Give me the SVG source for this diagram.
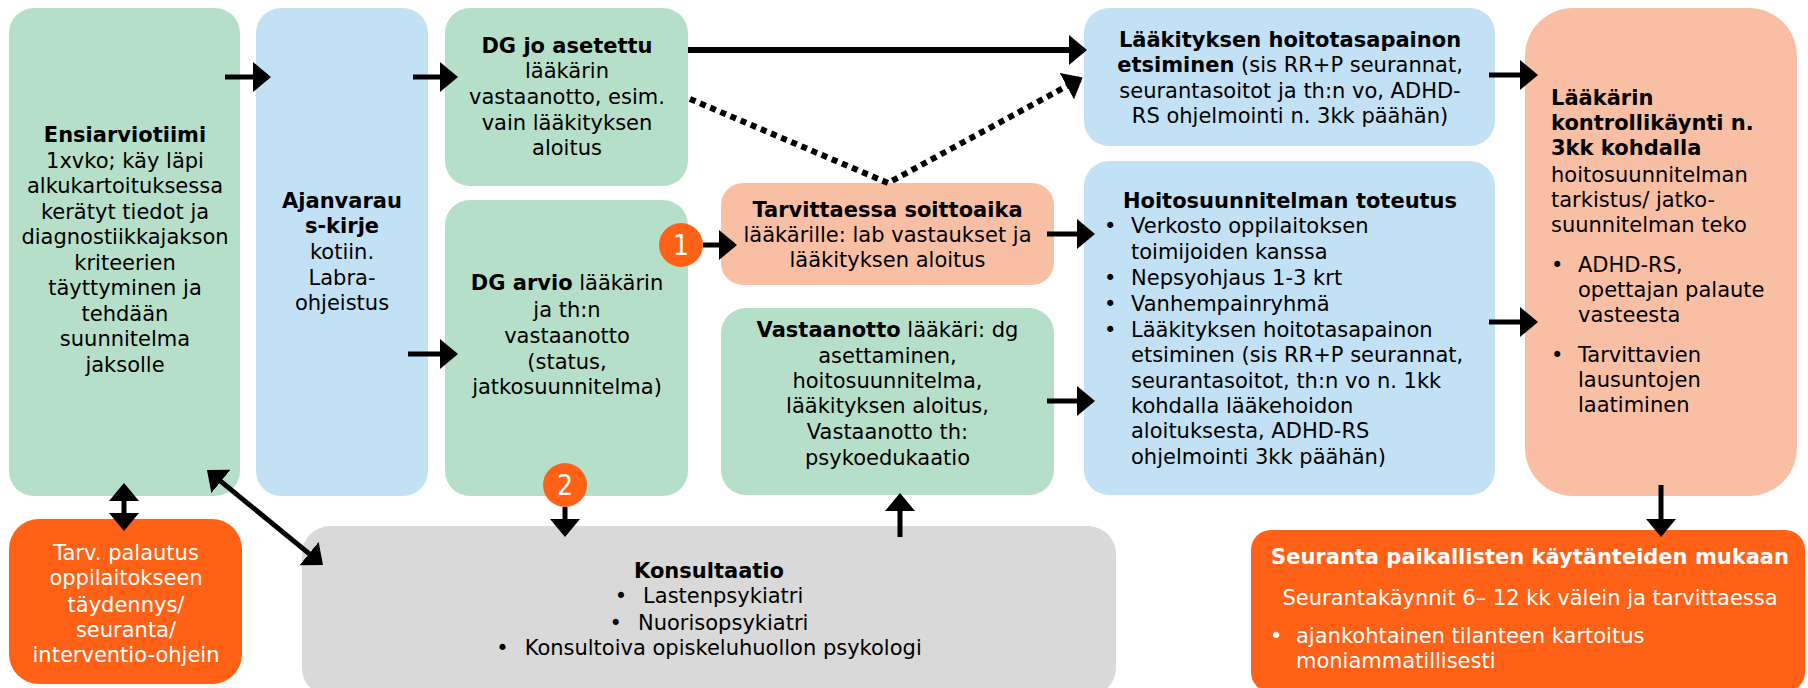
<svg xmlns="http://www.w3.org/2000/svg" width="1808" height="688" viewBox="0 0 1808 688">
<style>
.t{font-family:"DejaVu Sans",Verdana,sans-serif;font-size:21px;fill:#000}
.c{text-anchor:middle}
.b{font-weight:bold}
.w{fill:#fff}
.green{fill:#B6DFCA}
.blue{fill:#C2E1F5}
.salmon{fill:#F8BFA5}
.orange{fill:#FF6116}
.grey{fill:#D9D9D9}
.ln{fill:none;stroke:#000;stroke-width:5}
.dot{fill:none;stroke:#000;stroke-width:6;stroke-dasharray:6 5}
.badge{font-family:"DejaVu Sans Condensed","DejaVu Sans",sans-serif;font-size:28px;fill:#fff;text-anchor:middle}
</style>
<defs>
<marker id="ah" viewBox="0 0 18 30" refX="15" refY="15" markerWidth="18" markerHeight="30" markerUnits="userSpaceOnUse" orient="auto-start-reverse">
<path d="M0,0 L18,15 L0,30 z" fill="#000"/>
</marker>
</defs>

<g id="ensiarviotiimi">
<rect class="green" x="9" y="8" width="231" height="488" rx="25"/>
<text class="t c" x="125"><tspan class="b" x="125" y="142">Ensiarviotiimi</tspan><tspan x="125" y="167.5">1xvko; käy läpi</tspan><tspan x="125" y="193">alkukartoituksessa</tspan><tspan x="125" y="218.5">kerätyt tiedot ja</tspan><tspan x="125" y="244">diagnostiikkajakson</tspan><tspan x="125" y="269.5">kriteerien</tspan><tspan x="125" y="295">täyttyminen ja</tspan><tspan x="125" y="320.5">tehdään</tspan><tspan x="125" y="346">suunnitelma</tspan><tspan x="125" y="371.5">jaksolle</tspan></text>
</g>

<g id="ajanvaraus">
<rect class="blue" x="256" y="8" width="172" height="488" rx="25"/>
<text class="t c"><tspan class="b" x="342" y="208">Ajanvarau</tspan><tspan class="b" x="342" y="233">s-kirje</tspan><tspan x="342" y="259">kotiin.</tspan><tspan x="342" y="285">Labra-</tspan><tspan x="342" y="310">ohjeistus</tspan></text>
</g>

<g id="dg-jo-asetettu">
<rect class="green" x="445" y="8" width="243" height="178" rx="25"/>
<text class="t c"><tspan class="b" x="567" y="53">DG jo asetettu</tspan><tspan x="567" y="78">lääkärin</tspan><tspan x="567" y="104">vastaanotto, esim.</tspan><tspan x="567" y="130">vain lääkityksen</tspan><tspan x="567" y="155">aloitus</tspan></text>
</g>

<g id="dg-arvio">
<rect class="green" x="445" y="200" width="243" height="296" rx="25"/>
<text class="t c"><tspan x="567" y="290"><tspan class="b">DG arvio</tspan> lääkärin</tspan><tspan x="567" y="317">ja th:n</tspan><tspan x="567" y="343">vastaanotto</tspan><tspan x="567" y="369">(status,</tspan><tspan x="567" y="394">jatkosuunnitelma)</tspan></text>
</g>

<g id="tarvittaessa">
<rect class="salmon" x="721" y="183" width="333" height="102" rx="22"/>
<text class="t c"><tspan class="b" x="887.5" y="217">Tarvittaessa soittoaika</tspan><tspan x="887.5" y="242">lääkärille: lab vastaukset ja</tspan><tspan x="887.5" y="267">lääkityksen aloitus</tspan></text>
</g>

<g id="vastaanotto">
<rect class="green" x="721" y="308" width="333" height="187" rx="25"/>
<text class="t c"><tspan x="887.5" y="337"><tspan class="b">Vastaanotto</tspan> lääkäri: dg</tspan><tspan x="887.5" y="363">asettaminen,</tspan><tspan x="887.5" y="388">hoitosuunnitelma,</tspan><tspan x="887.5" y="413">lääkityksen aloitus,</tspan><tspan x="887.5" y="439">Vastaanotto th:</tspan><tspan x="887.5" y="465">psykoedukaatio</tspan></text>
</g>

<g id="laakityksen-hoitotasapaino">
<rect class="blue" x="1084" y="8" width="411" height="138" rx="25"/>
<text class="t c"><tspan class="b" x="1290" y="47">Lääkityksen hoitotasapainon</tspan><tspan x="1290" y="72"><tspan class="b">etsiminen</tspan> (sis RR+P seurannat,</tspan><tspan x="1290" y="98">seurantasoitot ja th:n vo, ADHD-</tspan><tspan x="1290" y="123">RS ohjelmointi n. 3kk päähän)</tspan></text>
</g>

<g id="hoitosuunnitelman-toteutus">
<rect class="blue" x="1084" y="161" width="411" height="334" rx="25"/>
<text class="t c b" x="1290" y="208">Hoitosuunnitelman toteutus</text>
<text class="t"><tspan x="1104" y="233">•</tspan><tspan x="1104" y="285">•</tspan><tspan x="1104" y="311">•</tspan><tspan x="1104" y="337">•</tspan></text>
<text class="t"><tspan x="1131" y="233">Verkosto oppilaitoksen</tspan><tspan x="1131" y="259">toimijoiden kanssa</tspan><tspan x="1131" y="285">Nepsyohjaus 1-3 krt</tspan><tspan x="1131" y="311">Vanhempainryhmä</tspan><tspan x="1131" y="337">Lääkityksen hoitotasapainon</tspan><tspan x="1131" y="362">etsiminen (sis RR+P seurannat,</tspan><tspan x="1131" y="388">seurantasoitot, th:n vo n. 1kk</tspan><tspan x="1131" y="413">kohdalla lääkehoidon</tspan><tspan x="1131" y="438">aloituksesta, ADHD-RS</tspan><tspan x="1131" y="464">ohjelmointi 3kk päähän)</tspan></text>
</g>

<g id="laakarin-kontrollikaynti">
<rect class="salmon" x="1525" y="8" width="272" height="488" rx="48"/>
<text class="t"><tspan class="b" x="1551" y="105">Lääkärin</tspan><tspan class="b" x="1551" y="130">kontrollikäynti n.</tspan><tspan class="b" x="1551" y="155">3kk kohdalla</tspan><tspan x="1551" y="182">hoitosuunnitelman</tspan><tspan x="1551" y="207">tarkistus/ jatko-</tspan><tspan x="1551" y="232">suunnitelman teko</tspan></text>
<text class="t"><tspan x="1551" y="272">•</tspan><tspan x="1551" y="362">•</tspan></text>
<text class="t"><tspan x="1578" y="272">ADHD-RS,</tspan><tspan x="1578" y="297">opettajan palaute</tspan><tspan x="1578" y="322">vasteesta</tspan><tspan x="1578" y="362">Tarvittavien</tspan><tspan x="1578" y="387">lausuntojen</tspan><tspan x="1578" y="412">laatiminen</tspan></text>
</g>

<g id="tarv-palautus">
<rect class="orange" x="9" y="519" width="233" height="165" rx="30"/>
<text class="t c w"><tspan x="126" y="560">Tarv. palautus</tspan><tspan x="126" y="585">oppilaitokseen</tspan><tspan x="126" y="612">täydennys/</tspan><tspan x="126" y="637">seuranta/</tspan><tspan x="126" y="662">interventio-ohjein</tspan></text>
</g>

<g id="konsultaatio">
<rect class="grey" x="302" y="526" width="814" height="170" rx="28"/>
<text class="t c b" x="709" y="578">Konsultaatio</text>
<text class="t c" x="709" y="603">•<tspan dx="16">Lastenpsykiatri</tspan></text>
<text class="t c" x="709" y="630">•<tspan dx="16">Nuorisopsykiatri</tspan></text>
<text class="t c" x="709" y="655">•<tspan dx="16">Konsultoiva opiskeluhuollon psykologi</tspan></text>
</g>

<g id="seuranta">
<rect class="orange" x="1251" y="530" width="554" height="162" rx="20"/>
<text class="t c b w" x="1530" y="564">Seuranta paikallisten käytänteiden mukaan</text>
<text class="t c w" x="1530" y="605">Seurantakäynnit 6– 12 kk välein ja tarvittaessa</text>
<text class="t w" x="1270" y="643">•</text>
<text class="t w"><tspan x="1296" y="643">ajankohtainen tilanteen kartoitus</tspan><tspan x="1296" y="668">moniammatillisesti</tspan></text>
</g>

<g id="badge-1">
<circle class="orange" cx="681" cy="245" r="22"/>
<text class="badge" x="681" y="255">1</text>
</g>

<g id="badge-2">
<circle class="orange" cx="565" cy="485" r="22"/>
<text class="badge" x="565" y="495">2</text>
</g>

<g id="connectors">
<path class="ln" d="M225,77 H268" marker-end="url(#ah)"/>
<path class="ln" d="M413,77 H455" marker-end="url(#ah)"/>
<path class="ln" d="M408,354 H455" marker-end="url(#ah)"/>
<path class="ln" style="stroke-width:6" d="M688,50 H1084" marker-end="url(#ah)"/>
<path class="dot" d="M690,99 L888,183 L1080,79" marker-end="url(#ah)"/>
<path class="ln" d="M703,245 H734" marker-end="url(#ah)"/>
<path class="ln" d="M1047,234 H1092" marker-end="url(#ah)"/>
<path class="ln" d="M1047,401 H1092" marker-end="url(#ah)"/>
<path class="ln" d="M1489,75 H1535" marker-end="url(#ah)"/>
<path class="ln" d="M1489,322 H1535" marker-end="url(#ah)"/>
<path class="ln" d="M1661,485 V534" marker-end="url(#ah)"/>
<path class="ln" d="M124,486 V528" marker-start="url(#ah)" marker-end="url(#ah)"/>
<path class="ln" d="M209.3,471.9 L320.7,563.1" marker-start="url(#ah)" marker-end="url(#ah)"/>
<path class="ln" d="M565,507 V534" marker-end="url(#ah)"/>
<path class="ln" d="M900,537 V496" marker-end="url(#ah)"/>
</g>
</svg>
